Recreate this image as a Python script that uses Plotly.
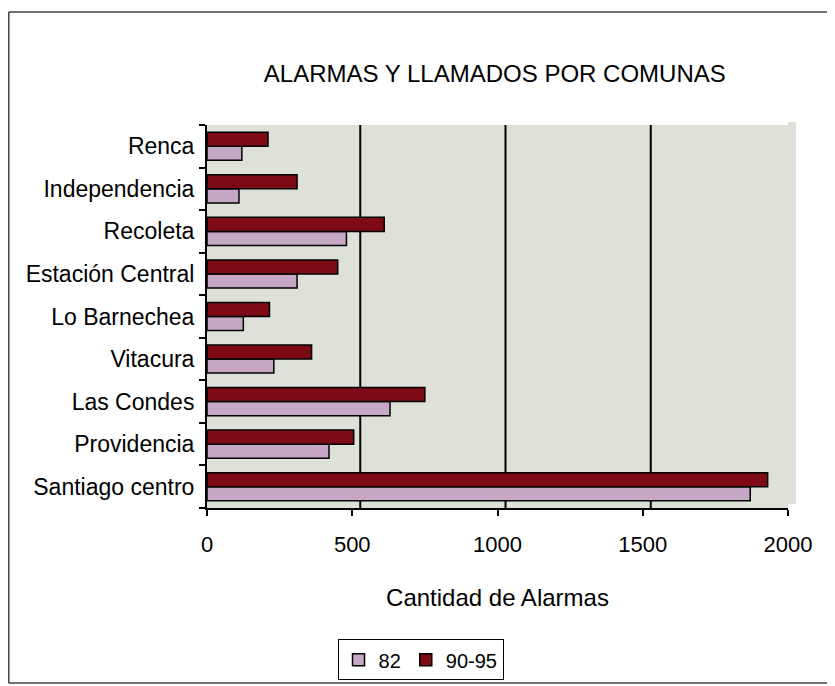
import plotly.graph_objects as go

# Data (bottom to top on the category axis)
comunas = ["Santiago centro", "Providencia", "Las Condes", "Vitacura",
           "Lo Barnechea", "Estación Central", "Recoleta", "Independencia", "Renca"]
alarmas_82 = [1870, 420, 630, 230, 125, 310, 480, 110, 120]
alarmas_90_95 = [1930, 505, 750, 360, 215, 450, 610, 310, 210]
x_ticks = [0, 500, 1000, 1500, 2000]
grid_values = [500, 1000, 1500]

FONT = "Liberation Sans, Arial, Helvetica, sans-serif"

fig = go.Figure()
fig.add_trace(go.Bar(
    y=comunas, x=alarmas_82, name="82", orientation="h",
    marker=dict(color="#c6a7c6", line=dict(color="black", width=1.5)),
))
fig.add_trace(go.Bar(
    y=comunas, x=alarmas_90_95, name="90-95", orientation="h",
    marker=dict(color="#7d0a14", line=dict(color="black", width=1.5)),
))

shapes = [
    # back-wall extension (3D depth look)
    dict(type="rect", xref="paper", yref="paper", x0=1.0, x1=1.0138, y0=0.01, y1=1.008,
         fillcolor="#dde1d8", line=dict(width=0), layer="below"),
    # outer frame
    dict(type="line", xref="paper", yref="paper", x0=-0.3412, x1=1.095,
         y0=1.295, y1=1.295, line=dict(color="#444", width=1.5)),
    dict(type="line", xref="paper", yref="paper", x0=-0.3412, x1=-0.3412,
         y0=1.295, y1=-0.457, line=dict(color="#444", width=1.5)),
    dict(type="line", xref="paper", yref="paper", x0=-0.3412, x1=1.095,
         y0=-0.457, y1=-0.457, line=dict(color="#444", width=1.5)),
]
# vertical grid lines on the back wall (shifted for depth)
for g in grid_values:
    shapes.append(dict(type="line", xref="x", xsizemode="pixel", xanchor=g,
                       x0=8, x1=8, yref="paper", y0=0.0, y1=1.0,
                       line=dict(color="black", width=2), layer="below"))

fig.update_layout(
    width=835, height=686,
    margin=dict(l=199, r=55, t=117, b=186, autoexpand=False),
    paper_bgcolor="white",
    plot_bgcolor="#dde1d8",
    font=dict(family=FONT, size=23, color="black"),
    barmode="group", bargap=0.34, bargroupgap=0.0,
    title=dict(text="ALARMAS Y LLAMADOS POR COMUNAS", x=0.583, xanchor="center",
               y=0.905, yanchor="middle", font=dict(size=24)),
    xaxis=dict(range=[0, 2000], tickvals=x_ticks, showgrid=False, zeroline=False,
               showline=True, linecolor="black", linewidth=2,
               ticks="outside", ticklen=6, tickcolor="black", tickwidth=1.5,
               ticklabelstandoff=10, tickfont=dict(size=22),
               title=dict(text="Cantidad de Alarmas", standoff=33, font=dict(size=24))),
    yaxis=dict(showgrid=False, zeroline=False, showline=True, linecolor="black",
               linewidth=2, ticks="outside", ticklen=6, tickcolor="black",
               tickwidth=1.5, tickson="boundaries", ticklabelstandoff=6),
    legend=dict(orientation="h", x=0.3675, xanchor="center", y=-0.343, yanchor="top",
                bgcolor="white", bordercolor="black", borderwidth=1,
                font=dict(size=20), itemwidth=30, tracegroupgap=0),
    shapes=shapes,
)

fig.write_html("out.html")
